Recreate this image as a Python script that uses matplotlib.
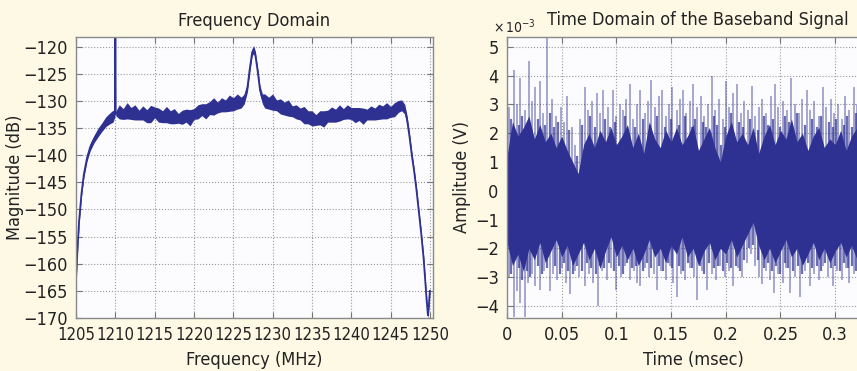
import numpy as np
import matplotlib.pyplot as plt

plt.rcParams['font.family'] = ['DejaVu Sans']
plt.rcParams['font.stretch'] = 'condensed'

# spectrum of the received band (MHz, dB) and the half-width of the noise band
spec_freq = [1205.0, 1205.2, 1205.4, 1205.7, 1206.0, 1206.4, 1206.8, 1207.3, 1207.8, 1208.3,
             1208.8, 1209.3, 1209.7, 1209.95, 1210.0, 1210.05, 1210.5, 1211.0, 1211.5, 1212.0,
             1212.5, 1213.0, 1213.5, 1214.0, 1214.5, 1215.0, 1215.5, 1216.0, 1216.5, 1217.0,
             1217.5, 1218.0, 1218.5, 1219.0, 1219.5, 1220.0, 1220.5, 1221.0, 1221.5, 1222.0,
             1222.5, 1223.0, 1223.5, 1224.0, 1224.5, 1225.0, 1225.5, 1226.0, 1226.4, 1226.8,
             1227.1, 1227.4, 1227.6, 1227.8, 1228.1, 1228.4, 1228.7, 1229.0, 1229.5, 1230.0,
             1230.5, 1231.0, 1231.5, 1232.0, 1232.5, 1233.0, 1233.5, 1234.0, 1234.5, 1235.0,
             1235.5, 1236.0, 1236.5, 1237.0, 1237.5, 1238.0, 1238.5, 1239.0, 1239.5, 1240.0,
             1240.5, 1241.0, 1241.5, 1242.0, 1242.5, 1243.0, 1243.5, 1244.0, 1244.5, 1245.0,
             1245.5, 1246.0, 1246.4, 1246.8, 1247.1, 1247.4, 1247.7, 1248.0, 1248.3, 1248.6,
             1248.9, 1249.2, 1249.4, 1249.6, 1249.75, 1249.85, 1250.0]
spec_mag = [-163.0, -157.0, -152.0, -147.0, -143.5, -140.5, -138.5, -137.0, -135.8, -134.8,
            -133.8, -133.2, -132.8, -132.5, -117.5, -132.3, -132.0, -132.4, -131.8, -132.3,
            -132.1, -132.6, -132.2, -132.8, -132.4, -132.1, -132.6, -132.9, -132.5, -133.0,
            -132.8, -133.2, -133.0, -132.7, -133.1, -132.4, -132.0, -131.6, -131.9, -131.3,
            -131.0, -131.2, -130.7, -130.9, -130.4, -130.6, -130.1, -130.3, -129.6, -127.5,
            -124.0, -121.0, -120.5, -121.5, -124.5, -128.0, -129.6, -130.0, -130.4, -130.2,
            -130.8, -131.0, -131.4, -131.3, -131.9, -132.0, -132.4, -132.6, -133.0, -133.2,
            -133.5, -133.1, -133.3, -132.8, -132.5, -132.7, -132.2, -132.4, -132.0, -132.3,
            -132.6, -132.4, -132.8, -132.5, -132.2, -132.4, -132.0, -132.1, -131.8, -132.0,
            -131.6, -131.0, -130.8, -131.5, -133.5, -136.5, -140.0, -143.0, -146.5, -150.5,
            -154.5, -159.0, -163.0, -167.0, -169.5, -168.0, -165.0]
spec_spread = [0.6, 0.6, 0.6, 0.6, 0.6, 0.6, 0.7, 0.7, 0.8, 0.8,
               0.9, 1.0, 1.1, 0.4, 0.3, 0.4, 1.3, 1.0, 1.5, 1.1,
               1.4, 0.9, 1.3, 1.2, 1.6, 1.0, 1.3, 1.1, 1.5, 1.2,
               1.4, 0.9, 1.3, 1.2, 1.5, 1.0, 1.3, 1.1, 1.4, 1.2,
               1.6, 1.0, 1.3, 1.1, 1.5, 1.2, 1.4, 1.0, 0.9, 0.8,
               0.7, 0.7, 0.7, 0.7, 0.7, 0.8, 0.9, 1.3, 1.1, 1.5,
               1.0, 1.4, 1.2, 1.5, 1.0, 1.3, 1.1, 1.6, 1.2, 1.4,
               1.0, 1.3, 1.5, 1.1, 1.4, 1.2, 1.5, 1.0, 1.3, 1.1,
               1.4, 1.2, 1.5, 1.0, 1.3, 1.1, 1.4, 1.2, 1.5, 1.0,
               1.3, 1.1, 1.0, 0.9, 0.8, 0.7, 0.7, 0.6, 0.6, 0.6,
               0.6, 0.6, 0.6, 0.6, 0.6, 0.6, 0.6]

# baseband time trace, amplitudes in units of 1e-3 V
t_core = np.arange(0, 0.3326, 0.005)
core_hi = [1.2, 2.4, 1.9, 2.2, 2.6, 1.8, 2.3, 1.7, 2.0, 1.5, 1.9, 1.4, 1.0, 0.6, 1.6, 2.0, 1.5,
           2.1, 1.7, 2.2, 1.6, 1.9, 2.3, 1.5, 2.0, 1.3, 2.4, 1.8, 1.5, 2.1, 1.7, 2.2, 1.6, 1.9,
           2.3, 1.4, 1.8, 2.2, 1.5, 1.0, 1.9, 2.4, 1.7, 2.0, 1.6, 2.2, 1.3, 1.9, 2.3, 1.6, 2.1,
           1.8, 2.5, 1.7, 2.0, 1.4, 1.9, 2.2, 1.5, 1.8, 1.6, 2.1, 1.4, 1.9, 2.2, 1.7, 2.0]
core_lo = [-1.8, -2.6, -2.2, -2.8, -2.0, -2.4, -1.8, -2.5, -2.1, -1.7, -2.3, -1.9, -2.6, -2.2,
           -1.8, -2.4, -2.0, -2.7, -2.1, -1.6, -2.3, -1.9, -2.4, -2.0, -2.6, -2.2, -1.7, -2.3,
           -2.0, -2.5, -1.9, -2.2, -1.6, -2.3, -2.0, -2.6, -2.1, -1.8, -2.4, -2.0, -2.2, -1.7,
           -2.3, -1.9, -1.5, -1.1, -1.9, -2.4, -2.0, -2.5, -2.1, -1.7, -2.3, -2.0, -2.6, -2.2,
           -1.8, -2.4, -2.0, -2.5, -2.1, -1.8, -2.3, -1.9, -2.4, -2.0, -2.2]

# tallest excursions
up_t = [0.002, 0.006, 0.009, 0.012, 0.016, 0.020, 0.023, 0.026, 0.030, 0.033, 0.037, 0.041,
        0.045, 0.049, 0.052, 0.055, 0.059, 0.062, 0.067, 0.071, 0.074, 0.078, 0.082, 0.085,
        0.088, 0.092, 0.097, 0.100, 0.103, 0.106, 0.109, 0.112, 0.115, 0.119, 0.122, 0.126,
        0.129, 0.132, 0.135, 0.139, 0.142, 0.145, 0.148, 0.151, 0.155, 0.158, 0.161, 0.164,
        0.167, 0.170, 0.174, 0.177, 0.180, 0.184, 0.187, 0.190, 0.194, 0.197, 0.200, 0.203,
        0.207, 0.210, 0.214, 0.217, 0.220, 0.224, 0.227, 0.230, 0.233, 0.237, 0.241, 0.245,
        0.248, 0.252, 0.256, 0.260, 0.263, 0.267, 0.270, 0.274, 0.277, 0.281, 0.285, 0.289,
        0.292, 0.296, 0.299, 0.303, 0.306, 0.309, 0.313, 0.317, 0.320, 0.324, 0.328]
up_amp = [2.9, 4.2, 3.0, 3.9, 2.8, 4.5, 3.1, 3.6, 3.8, 2.7, 5.4, 3.2,
          2.6, 2.9, 2.4, 3.3, 2.2, 1.6, 2.5, 3.6, 2.8, 3.1, 3.4, 2.7,
          3.5, 2.9, 3.5, 2.6, 3.0, 2.8, 3.2, 3.7, 2.5, 3.0, 3.5, 2.7,
          3.1, 3.85, 2.9, 3.3, 3.5, 2.6, 3.0, 3.6, 2.8, 3.2, 3.5, 2.7,
          3.1, 3.7, 2.9, 3.3, 2.6, 3.0, 4.0, 2.8, 3.2, 2.5, 3.8, 2.9,
          3.4, 3.7, 2.7, 3.1, 2.8, 3.65, 2.6, 2.9, 3.2, 2.7, 3.3, 3.7,
          2.9, 3.1, 2.8, 3.9, 3.0, 2.7, 3.2, 3.5, 2.8, 3.1, 2.6, 3.6,
          2.9, 3.2, 2.7, 3.0, 2.5, 3.3, 2.8, 3.6, 3.0, 3.4, 2.7]
dn_t = [0.002, 0.006, 0.009, 0.012, 0.016, 0.019, 0.023, 0.026, 0.030, 0.034, 0.039, 0.042,
        0.046, 0.050, 0.054, 0.058, 0.062, 0.066, 0.071, 0.075, 0.079, 0.083, 0.087, 0.091,
        0.095, 0.100, 0.104, 0.108, 0.112, 0.116, 0.119, 0.122, 0.126, 0.130, 0.134, 0.137,
        0.141, 0.145, 0.149, 0.152, 0.155, 0.159, 0.163, 0.167, 0.171, 0.174, 0.178, 0.183,
        0.187, 0.191, 0.195, 0.199, 0.203, 0.207, 0.211, 0.215, 0.219, 0.223, 0.227, 0.230,
        0.233, 0.237, 0.240, 0.244, 0.248, 0.252, 0.255, 0.259, 0.263, 0.268, 0.272, 0.277,
        0.281, 0.285, 0.289, 0.293, 0.298, 0.302, 0.306, 0.310, 0.313, 0.317, 0.321, 0.325,
        0.329]
dn_amp = [-3.0, -4.4, -3.5, -3.9, -4.4, -3.2, -2.9, -3.3, -3.45, -2.8, -3.5, -2.9,
          -3.1, -2.7, -3.2, -3.6, -2.8, -3.0, -3.3, -2.9, -3.2, -4.0, -2.8, -3.1,
          -2.7, -3.45, -3.0, -2.6, -3.1, -2.8, -3.2, -3.3, -2.7, -3.0, -2.9, -3.45,
          -2.8, -3.1, -2.6, -3.2, -3.7, -2.9, -3.1, -2.7, -3.0, -3.8, -2.8, -3.45,
          -2.9, -3.1, -2.6, -3.0, -2.8, -3.3, -2.7, -3.0, -2.5, -2.2, -2.6, -3.0,
          -3.25, -2.8, -3.1, -3.55, -2.9, -3.2, -2.7, -3.55, -3.0, -3.7, -2.8, -3.3,
          -2.9, -3.1, -2.6, -3.0, -3.3, -2.8, -3.1, -2.7, -3.2, -2.9, -3.0, -2.6,
          -3.1]

# denser, smaller excursions just outside the core
up2_t = [0.004, 0.011, 0.014, 0.018, 0.028, 0.035, 0.039, 0.043, 0.047, 0.057, 0.064, 0.069,
         0.076, 0.080, 0.090, 0.094, 0.099, 0.108, 0.117, 0.124, 0.131, 0.137, 0.144, 0.150,
         0.157, 0.163, 0.169, 0.172, 0.179, 0.182, 0.189, 0.192, 0.196, 0.199, 0.205, 0.212,
         0.216, 0.222, 0.229, 0.235, 0.239, 0.243, 0.250, 0.254, 0.258, 0.265, 0.272, 0.279,
         0.283, 0.287, 0.294, 0.298, 0.301, 0.308, 0.311, 0.315, 0.319, 0.322, 0.326, 0.330]
up2_amp = [2.5, 2.3, 2.6, 2.2, 2.5, 2.3, 2.7, 2.2, 2.4, 2.1, 1.2, 2.3,
           2.6, 2.2, 2.5, 2.2, 2.4, 2.6, 2.2, 2.5, 2.3, 2.6, 2.2, 2.5,
           2.3, 2.6, 2.2, 2.5, 2.4, 2.2, 2.6, 2.3, 1.6, 2.2, 2.7, 2.4,
           2.2, 2.5, 2.1, 2.6, 2.3, 2.5, 2.2, 2.6, 2.4, 2.7, 2.3, 2.5,
           2.2, 2.6, 2.4, 2.2, 2.5, 2.3, 2.6, 2.2, 2.7, 2.4, 2.5, 2.3]
dn2_t = [0.004, 0.011, 0.014, 0.018, 0.021, 0.028, 0.032, 0.037, 0.044, 0.048, 0.052, 0.056,
         0.060, 0.064, 0.069, 0.073, 0.077, 0.081, 0.085, 0.089, 0.093, 0.098, 0.102, 0.106,
         0.110, 0.114, 0.118, 0.124, 0.128, 0.132, 0.139, 0.143, 0.147, 0.151, 0.157, 0.161,
         0.165, 0.169, 0.176, 0.180, 0.185, 0.189, 0.193, 0.197, 0.201, 0.205, 0.209, 0.213,
         0.217, 0.221, 0.225, 0.229, 0.235, 0.239, 0.242, 0.246, 0.250, 0.254, 0.257, 0.261,
         0.266, 0.270, 0.275, 0.279, 0.283, 0.287, 0.291, 0.296, 0.300, 0.304, 0.308, 0.312,
         0.315, 0.319, 0.323, 0.327, 0.331]
dn2_amp = [-2.9, -2.7, -3.1, -2.8, -3.0, -2.6, -2.9, -2.7, -2.6, -2.9, -2.5, -2.8,
           -2.9, -2.6, -2.8, -2.5, -2.7, -2.9, -2.6, -2.7, -2.5, -2.8, -2.6, -2.9,
           -2.5, -2.7, -2.6, -2.8, -2.5, -2.7, -2.6, -2.8, -2.5, -2.7, -2.6, -2.8,
           -2.5, -2.7, -2.6, -2.9, -2.5, -2.7, -2.6, -2.8, -2.5, -2.7, -2.6, -2.8,
           -2.4, -2.0, -1.9, -2.4, -2.7, -2.5, -2.8, -2.6, -2.9, -2.5, -2.7, -2.8,
           -2.6, -2.9, -2.5, -2.7, -2.6, -2.8, -2.5, -2.7, -2.6, -2.8, -2.5, -2.7,
           -2.6, -2.8, -2.5, -2.7, -2.6]

trace = '#2e3192'
cream = '#fdf9e4'
txt = '#222222'

fig = plt.figure(figsize=(8.57, 3.71), dpi=100, facecolor=cream)


def style(ax):
    ax.set_facecolor('#fcfcff')
    for s in ax.spines.values():
        s.set_color('#8a8a8a')
        s.set_linewidth(1.0)
    ax.tick_params(direction='in', length=4, width=0.8, color='#777777',
                   top=True, right=True, labelsize=13, labelcolor=txt, pad=6)
    ax.grid(True, linestyle=':', color='#9a9a9a', linewidth=0.8)
    ax.set_axisbelow(True)


# frequency domain
ax1 = fig.add_axes([0.0887, 0.1429, 0.4166, 0.7574])
style(ax1)
ax1.tick_params(axis='x', labelsize=12)
f = np.array(spec_freq)
m = np.array(spec_mag)
sp = np.array(spec_spread)
ax1.fill_between(f, m - sp, m + sp, color=trace, lw=0)
ax1.plot(f, m, color=trace, lw=1.3)
ax1.set_xlim(1205, 1250.4)
ax1.set_ylim(-170, -118.2)
ax1.set_xticks(np.arange(1205, 1251, 5))
ax1.set_yticks(np.arange(-170, -119, 5))
ax1.set_title('Frequency Domain', fontsize=13, color=txt, pad=8)
ax1.set_xlabel('Frequency (MHz)', fontsize=13, color=txt, labelpad=5)
ax1.set_ylabel('Magnitude (dB)', fontsize=13, color=txt, labelpad=-1)

# time domain, axis runs past the right edge of the figure
ax2 = fig.add_axes([0.5916, 0.1429, 0.434, 0.7574])
style(ax2)
ax2.vlines(up_t, 0, up_amp, color=trace, lw=1.3, alpha=0.45)
ax2.vlines(dn_t, 0, dn_amp, color=trace, lw=1.3, alpha=0.45)
ax2.vlines(up2_t, 0, up2_amp, color=trace, lw=1.6, alpha=0.7)
ax2.vlines(dn2_t, 0, dn2_amp, color=trace, lw=1.6, alpha=0.7)
ax2.fill_between(t_core, core_lo, core_hi, color=trace, lw=0)
ax2.set_xlim(0, 0.34)
ax2.set_ylim(-4.42, 5.34)
ax2.set_xticks([0, 0.05, 0.1, 0.15, 0.2, 0.25, 0.3])
ax2.set_xticklabels(['0', '0.05', '0.1', '0.15', '0.2', '0.25', '0.3'])
ax2.set_yticks(np.arange(-4, 6, 1))
ax2.set_xlabel('Time (msec)', fontsize=13, color=txt, labelpad=5)
ax2.set_ylabel('Amplitude (V)', fontsize=13, color=txt, labelpad=3)
fig.text(698 / 857, 1 - 20 / 371, 'Time Domain of the Baseband Signal', fontsize=13,
         color=txt, ha='center', va='center')
fig.text(493 / 857, 1 - 27 / 371, r'$\times\,10^{-3}$', fontsize=10, color=txt,
         ha='left', va='center')

fig.savefig('out.png', dpi=100, facecolor=cream)
